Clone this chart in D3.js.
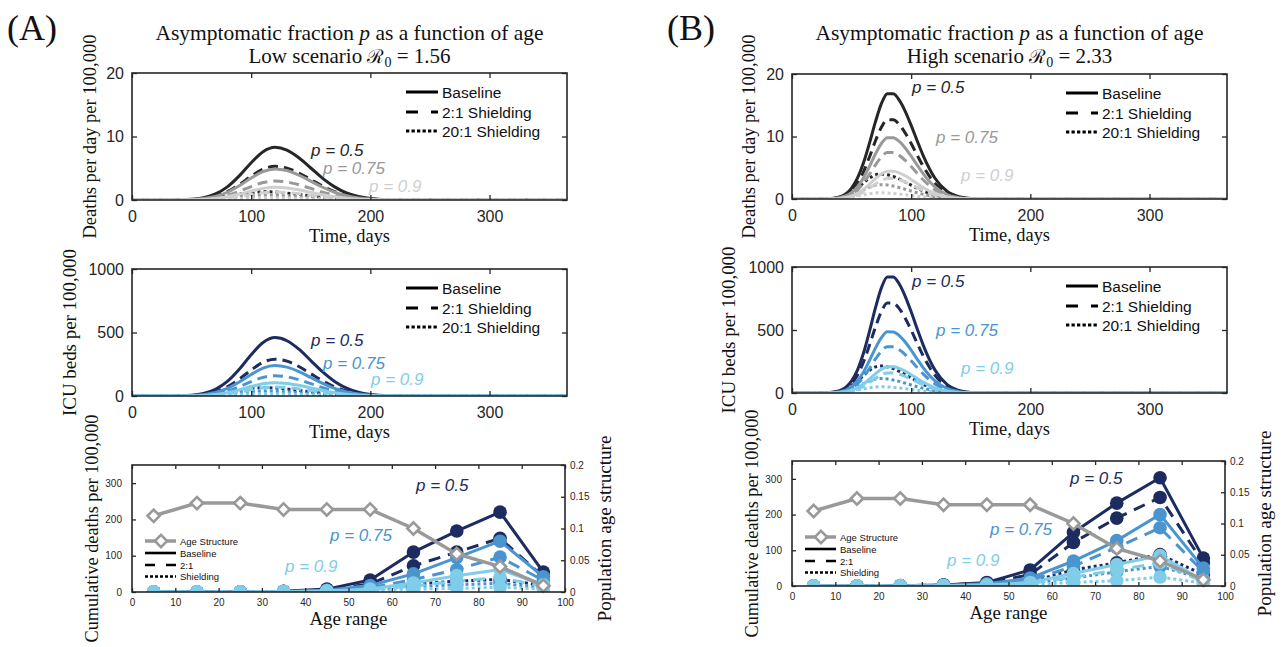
<!DOCTYPE html>
<html><head><meta charset="utf-8">
<script src="https://cdn.jsdelivr.net/npm/d3@7/dist/d3.min.js"></script>
<style>body{margin:0;background:#fff}</style>
</head><body>
<svg id="chart" width="1282" height="647"></svg>
<script>
// ---------------- DATA ----------------
const strategies = ["Baseline", "2:1 Shielding", "20:1 Shielding"];
const pValues = ["p = 0.5", "p = 0.75", "p = 0.9"];
const timeTicks = [0, 100, 200, 300];
const deathTicks = [0, 10, 20];
const icuTicks = [0, 500, 1000];
const ageTicks = [0,10,20,30,40,50,60,70,80,90,100];
const cumTicks = [0, 100, 200, 300];
const popTicks = [0, 0.05, 0.1, 0.15, 0.2];

// Low scenario (R0 = 1.56): time samples (days)
const timeLow = [0,30,50,60,70,80,90,100,110,120,130,140,150,160,170,180,190,200,215,240,280,365];
// Deaths per day per 100,000 (low)
const deathsLow_p50_base = [0,0.01,0.12,0.37,0.95,2.07,3.8,5.87,7.61,8.3,7.85,6.65,5.04,3.41,2.07,1.12,0.55,0.23,0.06,0,0,0];
const deathsLow_p50_s2   = [0,0,0.07,0.23,0.6,1.32,2.43,3.75,4.86,5.3,5.01,4.25,3.22,2.18,1.32,0.72,0.35,0.15,0.04,0,0,0];
const deathsLow_p50_s20  = [0,0.01,0.06,0.15,0.32,0.6,0.92,1.19,1.3,1.25,1.09,0.88,0.65,0.44,0.27,0.16,0.08,0.04,0.01,0,0,0];
const deathsLow_p75_base = [0,0,0.07,0.22,0.56,1.22,2.24,3.46,4.49,4.9,4.64,3.92,2.97,2.01,1.22,0.66,0.32,0.14,0.03,0,0,0];
const deathsLow_p75_s2   = [0,0,0.04,0.13,0.34,0.75,1.37,2.12,2.75,3.0,2.84,2.4,1.82,1.23,0.75,0.41,0.2,0.08,0.02,0,0,0];
const deathsLow_p75_s20  = [0,0,0.03,0.09,0.19,0.34,0.53,0.69,0.75,0.72,0.63,0.51,0.38,0.25,0.16,0.09,0.05,0.02,0.01,0,0,0];
const deathsLow_p90_base = [0,0,0.03,0.09,0.23,0.5,0.92,1.41,1.83,2.0,1.89,1.6,1.21,0.82,0.5,0.27,0.13,0.06,0.01,0,0,0];
const deathsLow_p90_s2   = [0,0,0.02,0.06,0.14,0.31,0.57,0.88,1.15,1.25,1.18,1.0,0.76,0.51,0.31,0.17,0.08,0.04,0.01,0,0,0];
const deathsLow_p90_s20  = [0,0,0.02,0.04,0.09,0.16,0.25,0.32,0.35,0.34,0.29,0.24,0.18,0.12,0.07,0.04,0.02,0.01,0,0,0,0];
// ICU beds per 100,000 (low)
const icuLow_p50_base = [0,0.4,6.4,20.2,52.4,114.5,210.7,325.2,421.8,460,435.2,368.5,279.2,189.1,114.5,62.1,30.4,12.9,3.2,0.1,0,0];
const icuLow_p50_s2   = [0,0.3,4.1,12.8,33.1,72.2,132.8,205,265.9,290,274.3,232.3,176,119.2,72.2,39.2,19.1,8.1,2,0.1,0,0];
const icuLow_p50_s20  = [0,0.3,2.9,7.4,16.2,29.8,46,59.6,65,62.3,54.7,44.1,32.5,22,13.7,7.8,4.1,2,0.6,0,0,0];
const icuLow_p75_base = [0,0.2,3.4,10.6,27.4,59.8,109.9,169.7,220.1,240,227,192.2,145.7,98.6,59.8,32.4,15.8,6.7,1.7,0,0,0];
const icuLow_p75_s2   = [0,0.1,2.2,7,18.2,39.8,73.3,113.1,146.7,160,151.4,128.2,97.1,65.8,39.8,21.6,10.6,4.5,1.1,0,0,0];
const icuLow_p75_s20  = [0,0.2,1.7,4.3,9.5,17.4,26.9,34.8,38,36.4,32,25.8,19,12.9,8,4.6,2.4,1.1,0.3,0,0,0];
const icuLow_p90_base = [0,0.1,1.5,4.6,12,26.1,48.1,74.2,96.3,105,99.3,84.1,63.7,43.2,26.1,14.2,6.9,2.9,0.7,0,0,0];
const icuLow_p90_s2   = [0,0.1,1,3.1,8,17.4,32.1,49.5,64.2,70,66.2,56.1,42.5,28.8,17.4,9.5,4.6,2,0.5,0,0,0];
const icuLow_p90_s20  = [0,0.1,0.8,2.1,4.5,8.2,12.7,16.5,18,17.2,15.1,12.2,9,6.1,3.8,2.2,1.1,0.5,0.2,0,0,0];

// High scenario (R0 = 2.33)
const timeHigh = [0,20,30,40,50,55,60,65,70,75,80,85,90,95,100,105,110,120,130,140,150,170,200,365];
const deathsHigh_p50_base = [0,0,0.04,0.34,1.75,3.37,5.8,8.94,12.34,15.25,16.85,16.83,15.81,14.03,11.78,9.33,6.99,3.32,1.24,0.37,0.09,0,0,0];
const deathsHigh_p50_s2   = [0,0,0.03,0.26,1.32,2.53,4.36,6.73,9.29,11.48,12.68,12.67,11.9,10.56,8.87,7.03,5.26,2.5,0.93,0.28,0.06,0,0,0];
const deathsHigh_p50_s20  = [0,0.01,0.05,0.31,1.11,1.79,2.59,3.34,3.86,4.0,3.88,3.6,3.2,2.72,2.22,1.74,1.3,0.64,0.26,0.09,0.03,0,0,0];
const deathsHigh_p75_base = [0,0,0.02,0.2,1.02,1.96,3.38,5.21,7.19,8.88,9.81,9.8,9.21,8.17,6.86,5.44,4.07,1.93,0.72,0.22,0.05,0,0,0];
const deathsHigh_p75_s2   = [0,0,0.02,0.15,0.77,1.49,2.56,3.95,5.45,6.73,7.43,7.43,6.98,6.19,5.2,4.12,3.08,1.46,0.55,0.17,0.04,0,0,0];
const deathsHigh_p75_s20  = [0,0,0.03,0.18,0.64,1.03,1.49,1.92,2.22,2.3,2.23,2.07,1.84,1.56,1.28,1.0,0.75,0.37,0.15,0.05,0.02,0,0,0];
const deathsHigh_p90_base = [0,0,0.01,0.09,0.46,0.89,1.53,2.37,3.27,4.04,4.46,4.46,4.19,3.71,3.12,2.47,1.85,0.88,0.33,0.1,0.02,0,0,0];
const deathsHigh_p90_s2   = [0,0,0.01,0.07,0.34,0.65,1.13,1.74,2.4,2.96,3.27,3.27,3.07,2.72,2.29,1.81,1.36,0.64,0.24,0.07,0.02,0,0,0];
const deathsHigh_p90_s20  = [0,0,0.01,0.08,0.28,0.45,0.65,0.84,0.97,1.0,0.97,0.9,0.8,0.68,0.56,0.43,0.33,0.16,0.07,0.02,0.01,0,0,0];
const icuHigh_p50_base = [0,0.2,2.3,18.6,95.8,184.1,317.1,489.2,675.2,834.2,921.6,920.7,864.9,767.3,644.5,510.6,382.2,181.4,67.9,20.5,4.7,0,0,0];
const icuHigh_p50_s2   = [0,0.1,1.8,14.4,74.2,142.6,245.5,378.7,522.7,645.8,713.5,712.8,669.6,594,499,395.3,295.9,140.4,52.6,15.8,3.6,0,0,0];
const icuHigh_p50_s20  = [0,0.3,2.9,16.6,59.8,96.3,139.1,179.5,207.5,214.8,208.3,193.5,172,146.2,119.5,93.3,69.9,34.2,14.2,4.9,1.5,0,0,0];
const icuHigh_p75_base = [0,0.1,1.2,9.8,50.5,97,167.1,257.7,355.7,439.5,485.6,485.1,455.7,404.3,339.6,269,201.4,95.6,35.8,10.8,2.5,0,0,0];
const icuHigh_p75_s2   = [0,0.1,0.9,7.4,38.1,73.3,126.2,194.6,268.6,331.9,366.7,366.3,344.1,305.3,256.4,203.1,152.1,72.2,27,8.1,1.9,0,0,0];
const icuHigh_p75_s20  = [0,0.2,1.6,8.9,32,51.5,74.4,96,111,114.9,111.4,103.5,92,78.2,63.9,49.9,37.4,18.3,7.6,2.6,0.8,0,0,0];
const icuHigh_p90_base = [0,0,0.5,4.2,21.6,41.6,71.6,110.5,152.5,188.4,208.1,207.9,195.3,173.3,145.5,115.3,86.3,41,15.3,4.6,1.1,0,0,0];
const icuHigh_p90_s2   = [0,0,0.4,3.2,16.5,31.7,54.6,84.2,116.2,143.5,158.6,158.4,148.8,132,110.9,87.8,65.8,31.2,11.7,3.5,0.8,0,0,0];
const icuHigh_p90_s20  = [0,0.1,0.7,3.9,13.9,22.4,32.4,41.8,48.3,50,48.5,45,40,34,27.8,21.7,16.3,8,3.3,1.2,0.4,0,0,0];

// Age groups (mid-points) and cumulative deaths per 100,000
const ageGroups = [5,15,25,35,45,55,65,75,85,95];
const ageStructure = [0.12,0.14,0.14,0.13,0.13,0.13,0.10,0.06,0.04,0.01];
const cumLow_p50_base = [0,0,0.5,2,8,33,110,168,220,55];
const cumLow_p50_s2   = [0,0,0.3,1.5,6,22,72,110,148,42];
const cumLow_p50_s20  = [0,0,0.2,1,3,10,22,30,35,18];
const cumLow_p75_base = [0,0,0.3,1.5,5,18,50,95,140,42];
const cumLow_p75_s2   = [0,0,0.2,1,4,12,34,62,96,32];
const cumLow_p75_s20  = [0,0,0.1,0.5,2,6,15,20,24,12];
const cumLow_p90_base = [0,0,0.2,1,3,8,25,45,62,20];
const cumLow_p90_s2   = [0,0,0.1,0.5,2,6,16,30,40,15];
const cumLow_p90_s20  = [0,0,0.1,0.3,1,3,8,10,13,8];
const cumHigh_p50_base = [0,0,1,3,10,45,150,232,303,78];
const cumHigh_p50_s2   = [0,0,0.8,2.5,8,32,122,190,248,65];
const cumHigh_p50_s20  = [0,0,0.3,1,3,12,45,65,88,32];
const cumHigh_p75_base = [0,0,0.5,2,6,22,70,127,200,50];
const cumHigh_p75_s2   = [0,0,0.4,1.5,5,16,55,108,163,40];
const cumHigh_p75_s20  = [0,0,0.2,0.7,2,8,22,40,55,20];
const cumHigh_p90_base = [0,0,0.3,1,3,10,35,60,85,15];
const cumHigh_p90_s2   = [0,0,0.2,0.8,2,7,25,45,65,12];
const cumHigh_p90_s20  = [0,0,0.1,0.3,1,4,10,15,25,8];

// ---------------- STYLE ----------------
const SANS = "'Liberation Sans', Arial, Helvetica, sans-serif";
const SERIF = "'Liberation Serif', 'Times New Roman', serif";
const AX = "#262626";
const greys = ["#262626", "#999999", "#cfcfcf"];
const blues = ["#1c2c60", "#4a95d0", "#80cdea"];
const plotDash = [null, "10,6", "3,3"];
const legendDash = [null, "12,13", "3.3,2.2"];
const intFmt = d3.format("d");

const svg = d3.select("#chart");
const defs = svg.append("defs");
let clipN = 0;

function addClip(x0, y0, w, h) {
  const id = "clip" + (clipN++);
  defs.append("clipPath").attr("id", id).append("rect")
    .attr("x", x0).attr("y", y0).attr("width", w).attr("height", h);
  return "url(#" + id + ")";
}

function styleAxis(g, fontSize) {
  g.select(".domain").remove();
  g.selectAll(".tick line").attr("stroke", AX).attr("stroke-width", 1.3);
  g.selectAll(".tick text").attr("fill", AX).attr("font-family", SANS).attr("font-size", fontSize);
}

function serif(g, x, y, size, parts, opts = {}) {
  const t = g.append("text").attr("x", x).attr("y", y)
    .attr("font-family", SERIF).attr("font-size", size).attr("fill", "#111")
    .attr("text-anchor", "middle");
  if (opts.rotate) t.attr("transform", `rotate(-90,${x},${y})`);
  if (opts.len) t.attr("textLength", opts.len).attr("lengthAdjust", "spacingAndGlyphs");
  parts.forEach(p => {
    const s = t.append("tspan").text(p.t);
    if (p.i) s.attr("font-style", "italic");
    if (p.dy) s.attr("dy", p.dy);
    if (p.fs) s.attr("font-size", p.fs);
    if (p.ff) s.attr("font-family", p.ff);
  });
  return t;
}

function pLabel(g, x, y, text, color) {
  g.append("text").attr("x", x).attr("y", y).attr("dominant-baseline", "central")
    .attr("font-family", SANS).attr("font-size", 17).attr("font-style", "italic")
    .attr("fill", color).text(text);
}

function timePanel(o) {
  const g = svg.append("g");
  const x = d3.scaleLinear().domain([0, 365]).range([o.x0, o.x1]);
  const y = d3.scaleLinear().domain([0, o.yMax]).range([o.y1, o.y0]);
  const clip = addClip(o.x0, o.y0, o.x1 - o.x0, o.y1 - o.y0);
  const line = d3.line().x((d, i) => x(o.time[i])).y(d => y(d)).curve(d3.curveMonotoneX);
  const cg = g.append("g").attr("clip-path", clip);
  o.series.forEach((row, i) => row.forEach((vals, j) => {
    cg.append("path").attr("d", line(vals)).attr("fill", "none")
      .attr("stroke", o.colors[i]).attr("stroke-width", 3)
      .attr("stroke-dasharray", plotDash[j]);
  }));
  g.append("g").attr("transform", `translate(0,${o.y1})`)
    .call(d3.axisBottom(x).tickValues(timeTicks).tickFormat(intFmt).tickSizeInner(-5).tickSizeOuter(0).tickPadding(11))
    .call(s => styleAxis(s, 16));
  g.append("g").attr("transform", `translate(0,${o.y0})`)
    .call(d3.axisTop(x).tickValues(timeTicks).tickSizeInner(-5).tickSizeOuter(0).tickFormat(""))
    .call(s => styleAxis(s, 16));
  g.append("g").attr("transform", `translate(${o.x0},0)`)
    .call(d3.axisLeft(y).tickValues(o.yTicks).tickFormat(intFmt).tickSizeInner(-5).tickSizeOuter(0).tickPadding(8))
    .call(s => styleAxis(s, 16));
  g.append("g").attr("transform", `translate(${o.x1},0)`)
    .call(d3.axisRight(y).tickValues(o.yTicks).tickSizeInner(-5).tickSizeOuter(0).tickFormat(""))
    .call(s => styleAxis(s, 16));
  g.append("rect").attr("x", o.x0).attr("y", o.y0).attr("width", o.x1 - o.x0).attr("height", o.y1 - o.y0)
    .attr("fill", "none").attr("stroke", AX).attr("stroke-width", 1.6);
  strategies.forEach((s, j) => {
    const ly = o.y0 + [19, 39, 58][j];
    g.append("line").attr("x1", o.x0 + 274).attr("x2", o.x0 + 306).attr("y1", ly).attr("y2", ly)
      .attr("stroke", "#000").attr("stroke-width", 3).attr("stroke-dasharray", legendDash[j]);
    g.append("text").attr("x", o.x0 + 310).attr("y", ly).attr("dominant-baseline", "central")
      .attr("font-family", SANS).attr("font-size", 15.5).attr("fill", "#111").text(s);
  });
  o.labels.forEach((p, i) => pLabel(g, p[0], p[1], pValues[i], o.colors[i]));
  serif(g, (o.x0 + o.x1) / 2, o.y1 + 42, 18, [{t: "Time, days"}], {len: 81});
  serif(g, o.x0 - o.yOff, (o.y0 + o.y1) / 2, 18, [{t: o.yLabel}], {rotate: true, len: o.yLen});
}

function agePanel(o) {
  const g = svg.append("g");
  const x = d3.scaleLinear().domain([0, 100]).range([o.x0, o.x1]);
  const yL = d3.scaleLinear().domain([0, 350]).range([o.y1, o.y0]);
  const yR = d3.scaleLinear().domain([0, 0.2]).range([o.y1, o.y0]);
  const clip = addClip(o.x0, o.y0, o.x1 - o.x0, o.y1 - o.y0);
  const line = d3.line().x((d, i) => x(ageGroups[i])).y(d => yL(d));
  const cg = g.append("g").attr("clip-path", clip);
  o.series.forEach((row, i) => row.forEach((vals, j) => {
    cg.append("path").attr("d", line(vals)).attr("fill", "none")
      .attr("stroke", blues[i]).attr("stroke-width", 3)
      .attr("stroke-dasharray", j === 1 ? "12,8" : (j === 2 ? "3,3" : null));
    cg.selectAll(null).data(vals).enter().append("circle")
      .attr("cx", (d, k) => x(ageGroups[k])).attr("cy", d => yL(d)).attr("r", 6.8)
      .attr("fill", blues[i]);
  }));
  const lineR = d3.line().x((d, i) => x(ageGroups[i])).y(d => yR(d));
  g.append("path").attr("d", lineR(ageStructure)).attr("fill", "none")
    .attr("stroke", "#999").attr("stroke-width", 3.5);
  const diamond = d3.symbol().type(d3.symbolDiamond2).size(95);
  g.selectAll(null).data(ageStructure).enter().append("path")
    .attr("d", diamond).attr("transform", (d, k) => `translate(${x(ageGroups[k])},${yR(d)})`)
    .attr("fill", "#fff").attr("stroke", "#999").attr("stroke-width", 2.6);
  g.append("g").attr("transform", `translate(0,${o.y1})`)
    .call(d3.axisBottom(x).tickValues(ageTicks).tickFormat(intFmt).tickSizeInner(-4).tickSizeOuter(0).tickPadding(7))
    .call(s => styleAxis(s, 10));
  g.append("g").attr("transform", `translate(0,${o.y0})`)
    .call(d3.axisTop(x).tickValues(ageTicks).tickSizeInner(-4).tickSizeOuter(0).tickFormat(""))
    .call(s => styleAxis(s, 10));
  g.append("g").attr("transform", `translate(${o.x0},0)`)
    .call(d3.axisLeft(yL).tickValues(cumTicks).tickFormat(intFmt).tickSizeInner(-4).tickSizeOuter(0).tickPadding(10))
    .call(s => styleAxis(s, 10));
  g.append("g").attr("transform", `translate(${o.x1},0)`)
    .call(d3.axisRight(yR).tickValues(popTicks).tickSizeInner(-4).tickSizeOuter(0).tickPadding(5).tickFormat(d => String(d)))
    .call(s => styleAxis(s, 10));
  g.append("rect").attr("x", o.x0).attr("y", o.y0).attr("width", o.x1 - o.x0).attr("height", o.y1 - o.y0)
    .attr("fill", "none").attr("stroke", AX).attr("stroke-width", 1.6);
  const lg = g.append("g");
  const rows = [76, 88, 100, 111.5].map(v => o.y0 + v);
  lg.append("line").attr("x1", o.x0 + 13).attr("x2", o.x0 + 44).attr("y1", rows[0]).attr("y2", rows[0])
    .attr("stroke", "#999").attr("stroke-width", 3.5);
  lg.append("path").attr("d", diamond).attr("transform", `translate(${o.x0 + 29},${rows[0]})`)
    .attr("fill", "#fff").attr("stroke", "#999").attr("stroke-width", 2.6);
  const legNames = ["Age Structure", "Baseline", "2:1", "Shielding"];
  [null, null, "10,11", "3,2"].forEach((dash, k) => {
    if (k > 0) lg.append("line").attr("x1", o.x0 + 13).attr("x2", o.x0 + 44).attr("y1", rows[k]).attr("y2", rows[k])
      .attr("stroke", "#000").attr("stroke-width", 2.6).attr("stroke-dasharray", dash);
    lg.append("text").attr("x", o.x0 + 48).attr("y", rows[k]).attr("dominant-baseline", "central")
      .attr("font-family", SANS).attr("font-size", 9.5).attr("fill", "#111").text(legNames[k]);
  });
  o.labels.forEach((p, i) => pLabel(g, p[0], p[1], pValues[i], blues[i]));
  serif(g, (o.x0 + o.x1) / 2, o.y1 + 33, 18, [{t: "Age range"}], {len: 78});
  serif(g, o.x0 - 34, (o.y0 + o.y1) / 2, 18, [{t: "Cumulative deaths per 100,000"}], {rotate: true, len: 228});
  serif(g, o.x1 + 46, (o.y0 + o.y1) / 2, 18, [{t: "Population age structure"}], {rotate: true, len: 186});
}

function header(cx, letterX, letter, scenario, r0) {
  svg.append("text").attr("x", letterX).attr("y", 40).attr("font-family", SERIF)
    .attr("font-size", 36).attr("fill", "#111").text(letter);
  serif(svg, cx, 40, 21, [{t: "Asymptomatic fraction "}, {t: "p", i: true}, {t: " as a function of age"}], {len: 388});
  serif(svg, cx, 63, 21, [{t: scenario + " scenario "}, {t: "ℛ", ff: "'DejaVu Serif', serif", fs: 19},
    {t: "0", dy: 4, fs: 14}, {t: " = " + r0, dy: -4}]);
}

// ---------------- PANELS ----------------
header(349.5, 7, "(A)", "Low", "1.56");
header(1009.5, 667, "(B)", "High", "2.33");

timePanel({x0: 132, x1: 567, y0: 73, y1: 200, yMax: 20, yTicks: deathTicks, time: timeLow, colors: greys,
  series: [[deathsLow_p50_base, deathsLow_p50_s2, deathsLow_p50_s20],
           [deathsLow_p75_base, deathsLow_p75_s2, deathsLow_p75_s20],
           [deathsLow_p90_base, deathsLow_p90_s2, deathsLow_p90_s20]],
  labels: [[311, 150], [323, 168], [369, 186]], yLabel: "Deaths per day per 100,000", yLen: 204, yOff: 36});
timePanel({x0: 132, x1: 567, y0: 269, y1: 396, yMax: 1000, yTicks: icuTicks, time: timeLow, colors: blues,
  series: [[icuLow_p50_base, icuLow_p50_s2, icuLow_p50_s20],
           [icuLow_p75_base, icuLow_p75_s2, icuLow_p75_s20],
           [icuLow_p90_base, icuLow_p90_s2, icuLow_p90_s20]],
  labels: [[311, 340], [323, 363], [371, 379]], yLabel: "ICU beds per 100,000", yLen: 167, yOff: 56});
agePanel({x0: 132, x1: 565, y0: 465, y1: 592,
  series: [[cumLow_p50_base, cumLow_p50_s2, cumLow_p50_s20],
           [cumLow_p75_base, cumLow_p75_s2, cumLow_p75_s20],
           [cumLow_p90_base, cumLow_p90_s2, cumLow_p90_s20]],
  labels: [[416, 485], [330, 535], [285, 566]]});

timePanel({x0: 792, x1: 1227, y0: 74, y1: 199, yMax: 20, yTicks: deathTicks, time: timeHigh, colors: greys,
  series: [[deathsHigh_p50_base, deathsHigh_p50_s2, deathsHigh_p50_s20],
           [deathsHigh_p75_base, deathsHigh_p75_s2, deathsHigh_p75_s20],
           [deathsHigh_p90_base, deathsHigh_p90_s2, deathsHigh_p90_s20]],
  labels: [[912, 87], [936, 137], [961, 175]], yLabel: "Deaths per day per 100,000", yLen: 204, yOff: 37});
timePanel({x0: 792, x1: 1227, y0: 267, y1: 393, yMax: 1000, yTicks: icuTicks, time: timeHigh, colors: blues,
  series: [[icuHigh_p50_base, icuHigh_p50_s2, icuHigh_p50_s20],
           [icuHigh_p75_base, icuHigh_p75_s2, icuHigh_p75_s20],
           [icuHigh_p90_base, icuHigh_p90_s2, icuHigh_p90_s20]],
  labels: [[912, 281], [936, 330], [961, 368]], yLabel: "ICU beds per 100,000", yLen: 167, yOff: 57});
agePanel({x0: 792, x1: 1225, y0: 461, y1: 586,
  series: [[cumHigh_p50_base, cumHigh_p50_s2, cumHigh_p50_s20],
           [cumHigh_p75_base, cumHigh_p75_s2, cumHigh_p75_s20],
           [cumHigh_p90_base, cumHigh_p90_s2, cumHigh_p90_s20]],
  labels: [[1070, 478], [990, 529], [947, 560]]});
</script>
</body></html>
